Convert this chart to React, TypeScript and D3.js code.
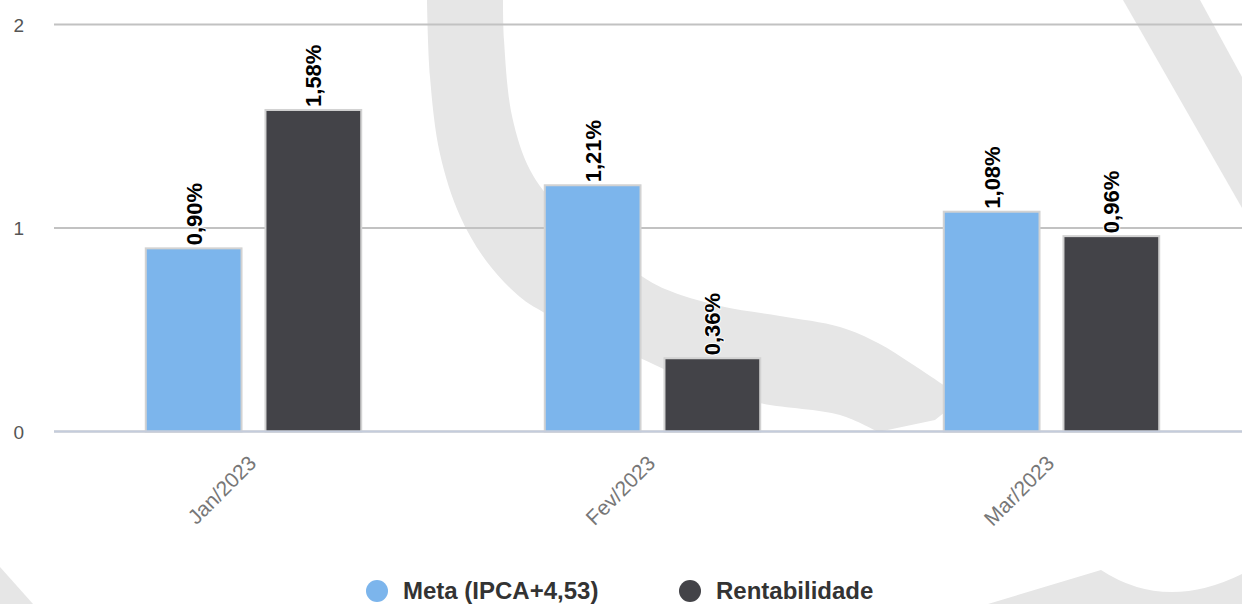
import React from "react";
import { scaleBand, scaleLinear, line, curveCatmullRom } from "d3";

// chart data
const categories = ["Jan/2023", "Fev/2023", "Mar/2023"];
const seriesNames = ["Meta (IPCA+4,53)", "Rentabilidade"];
const meta = [0.9, 1.21, 1.08];
const rentabilidade = [1.58, 0.36, 0.96];
const yTicks = [0, 1, 2];
const colors = ["#7cb5ec", "#434348"];

const W = 1242;
const H = 604;
const FONT = "'Liberation Sans', Arial, Helvetica, sans-serif";

// background logo (decorative watermark), outer and inner edge of the curved band
const bandOuter: [number, number][] = [
  [427, 0], [430, 77], [440, 154], [460, 216], [487, 262], [520, 297],
  [543, 312], [590, 336], [640, 358], [700, 385], [760, 403], [840, 415],
  [878, 432],
];
const bandInner: [number, number][] = [
  [503, 0], [504, 40], [512, 116], [530, 170], [558, 208], [592, 240],
  [640, 275], [665, 289], [720, 306], [780, 316], [840, 327], [878, 343],
  [912, 364], [948, 388],
];

function fmt(v: number) {
  return v.toFixed(2).replace(".", ",") + "%";
}

export default function App() {
  const x0 = scaleBand<string>().domain(categories).range([54, 1251]).padding(0);
  const step = x0.step();
  const x1 = scaleBand<string>()
    .domain(seriesNames)
    .range([0.2 * step, 0.8 * step])
    .paddingInner(0.2)
    .paddingOuter(0.1);
  const y = scaleLinear().domain([0, 2]).range([431.5, 24.5]);

  const values = [meta, rentabilidade];
  const edge = line().curve(curveCatmullRom.alpha(0.5));
  const outerD = edge(bandOuter) || "";
  const innerD = (edge([...bandInner].reverse()) || "").replace(/^M/, "L");
  const bandPath = `M503,-2 L427,-2 ${outerD.replace(/^M/, "L")} L935,420 L960,400 ${innerD} Z`;

  return (
    <svg
      width={W}
      height={H}
      style={{ position: "absolute", left: 0, top: 0, background: "#fff" }}
      fontFamily={FONT}
    >
      {/* watermark */}
      <g fill="#e6e6e6">
        <path d={bandPath} />
        <path d="M1123,0 L1200,0 L1242,77 L1242,208 Z" />
        <path d="M0,567 L33,604 L0,604 Z" />
        <path d="M988,604 L1101,570 Q1165,612 1242,574 L1242,604 Z" />
      </g>

      {/* grid */}
      {yTicks.map((t) => (
        <g key={t}>
          <line x1={54} x2={W} y1={y(t)} y2={y(t)} stroke="#c2c2c2" strokeWidth={2} />
          <text x={24} y={y(t) + 7} textAnchor="end" fontSize={19} fill="#555">
            {t}
          </text>
        </g>
      ))}

      {/* bars */}
      {categories.map((c, i) => (
        <g key={c} transform={`translate(${x0(c)},0)`}>
          {seriesNames.map((s, j) => {
            const v = values[j][i];
            return (
              <rect
                key={s}
                x={x1(s)!}
                y={y(v)}
                width={x1.bandwidth()}
                height={y(0) - y(v)}
                fill={colors[j]}
                stroke="#d2d2d2"
                strokeWidth={2}
              />
            );
          })}
        </g>
      ))}

      {/* x axis line */}
      <line x1={54} x2={W} y1={y(0)} y2={y(0)} stroke="#c4ccdc" strokeWidth={2} />

      {/* data labels */}
      {categories.map((c, i) =>
        seriesNames.map((s, j) => {
          const v = values[j][i];
          const cx = x0(c)! + x1(s)! + x1.bandwidth() / 2;
          return (
            <text
              key={c + s}
              transform={`translate(${cx},${y(v) - 3}) rotate(-90)`}
              dy="0.36em"
              fontSize={22}
              fontWeight="bold"
              fill="#000"
              stroke="#fff"
              strokeWidth={2}
              strokeLinejoin="round"
              paintOrder="stroke"
            >
              {fmt(v)}
            </text>
          );
        })
      )}

      {/* x tick labels */}
      {categories.map((c) => {
        const tx = x0(c)! + step / 2 + 4;
        return (
          <text
            key={c}
            transform={`translate(${tx},${y(0) + 33}) rotate(-45)`}
            textAnchor="end"
            fontSize={21}
            fill="#777"
          >
            {c}
          </text>
        );
      })}

      {/* legend */}
      {seriesNames.map((s, j) => {
        const lx = [377, 690][j];
        return (
          <g key={s}>
            <circle cx={lx} cy={591} r={11} fill={colors[j]} />
            <text x={lx + 26} y={599} fontSize={24} fontWeight="bold" fill="#333">
              {s}
            </text>
          </g>
        );
      })}
    </svg>
  );
}
